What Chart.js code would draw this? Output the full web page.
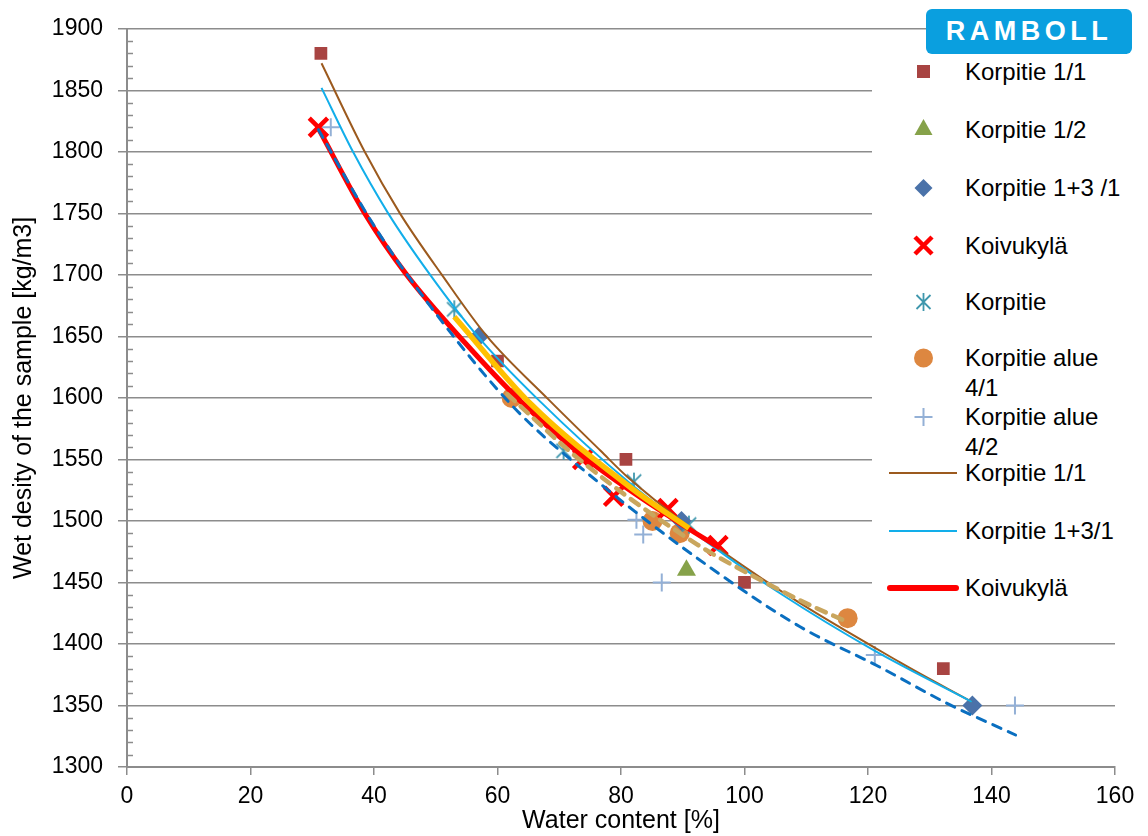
<!DOCTYPE html>
<html>
<head>
<meta charset="utf-8">
<script src="https://cdn.jsdelivr.net/npm/chart.js@4.4.1/dist/chart.umd.min.js"></script>
<style>
  html, body { margin: 0; padding: 0; background: #fff; }
  #wrap { position: relative; width: 1148px; height: 836px; overflow: hidden; font-family: "Liberation Sans", Arial, sans-serif; }
  #c { position: absolute; left: 0; top: 0; }
  #legend { position: absolute; left: 872px; top: 57px; width: 276px; height: 555px; background: #fff; }
  .row { position: absolute; left: 0; width: 276px; height: 30px; }
  .row svg { position: absolute; left: 0; top: 0; }
  .row .t { position: absolute; left: 93px; top: 0; font-size: 24px; line-height: 30px; color: #000; white-space: nowrap; }
  #logo { position: absolute; left: 926px; top: 9px; width: 206px; height: 45px; background: #0a9fdf; border-radius: 6px;
          color: #fff; font-family: "Liberation Sans", Arial, sans-serif; font-weight: bold; font-size: 27px; line-height: 45px;
          letter-spacing: 4.5px; text-align: center; }
</style>
</head>
<body>
<div id="wrap">
  <canvas id="c" width="1148" height="836"></canvas>
  <div id="legend"></div>
  <div id="logo">RAMBOLL</div>
</div>
<script>
// ---------- data ----------
const xTicksMax = 160;
const yMin = 1300, yMax = 1900;

// scatter series
const k11X  = [31.4, 60.0, 80.8, 100.0, 132.2];
const k11Y  = [1880, 1630, 1550, 1450, 1380];
const k12X  = [90.6];
const k12Y  = [1460];
const k131X = [57.0, 89.8, 136.9];
const k131Y = [1650, 1500, 1350];
const koiX  = [31.0, 73.8, 78.8, 87.6, 95.7];
const koiY  = [1820, 1550, 1520, 1510, 1480];
const korX  = [53.0, 70.7, 82.1, 91.0];
const korY  = [1672, 1557, 1532, 1497];
const a41X  = [62.3, 85.1, 89.5, 116.7];
const a41Y  = [1600, 1500, 1490, 1421];
const a42X  = [33.0, 82.5, 83.6, 86.6, 121.1, 143.8];
const a42Y  = [1820, 1501, 1489, 1450, 1391, 1350];

// fitted curves
const brownX = [31.5, 38.5, 44.2, 51.0, 58.3, 68.2, 76.7, 81.0, 100.2, 125.2, 136.8];
const brownY = [1872, 1800, 1750, 1700, 1650, 1599, 1557, 1536, 1462, 1385, 1353];
const lblueX = [31.5, 36.6, 42.3, 49.1, 56.8, 66.3, 81.6, 96.6, 105.8, 120.9, 136.8];
const lblueY = [1852, 1800, 1750, 1700, 1650, 1600, 1530, 1473, 1441, 1395, 1353];
const redX   = [31.0, 38.5, 45.3, 54.7, 63.6, 74.0, 88.0, 96.0];
const redY   = [1819, 1750, 1700, 1645, 1598, 1552, 1503, 1478];
const yellX  = [53.0, 65.4, 81.6, 91.0];
const yellY  = [1666, 1595, 1527, 1494];
const tanX   = [61.6, 73.5, 92.3, 102.6, 110.0, 116.6];
const tanY   = [1603, 1549, 1481, 1452, 1433, 1418];
const bdashX = [31.0, 40.0, 49.2, 62.7, 76.2, 94.5, 109.0, 122.0, 132.7, 143.9];
const bdashY = [1818, 1740, 1674, 1592, 1532, 1462, 1414, 1381, 1352, 1326];

const pts = (xs, ys) => xs.map((x, i) => ({x: x, y: ys[i]}));

// asterisk marker (Excel style: X plus vertical bar)
function asterisk(color, size, lw) {
  const cv = document.createElement('canvas');
  cv.width = size; cv.height = size;
  const g = cv.getContext('2d');
  g.strokeStyle = color; g.lineWidth = lw;
  const h = size / 2, r = size / 2 - 1;
  g.beginPath();
  g.moveTo(h, h - r); g.lineTo(h, h + r);
  g.moveTo(h - r * 0.8, h - r * 0.8); g.lineTo(h + r * 0.8, h + r * 0.8);
  g.moveTo(h + r * 0.8, h - r * 0.8); g.lineTo(h - r * 0.8, h + r * 0.8);
  g.stroke();
  return cv;
}
const astImg = asterisk('#3f97ad', 20, 1.8);

const C = {
  sq: '#a84442', tri: '#86a24a', dia: '#4a72a9', x: '#ff0000', ast: '#3f97ad',
  circ: '#dd8740', plus: '#93b0d6', brown: '#9c5a1e', lblue: '#12aeea', red: '#ff0000',
  yell: '#ffc000', tan: '#c9a65e', bdash: '#0a6fc0'
};

const lineDs = (label, data, color, w, order, dash) => ({
  label, data, showLine: true, borderColor: color, borderWidth: w, pointRadius: 0,
  borderDash: dash || [], borderCapStyle: dash ? 'round' : 'butt', fill: false,
  cubicInterpolationMode: 'monotone', order
});

const datasets = [
  {label: 'Korpitie 1/1', data: pts(k11X, k11Y), pointStyle: 'rect', pointRadius: 9, backgroundColor: C.sq, borderColor: C.sq, borderWidth: 0, order: 20},
  {label: 'Korpitie 1/2', data: pts(k12X, k12Y), pointStyle: 'triangle', pointRadius: 11, backgroundColor: C.tri, borderColor: C.tri, borderWidth: 0, order: 21},
  {label: 'Korpitie 1+3 /1', data: pts(k131X, k131Y), pointStyle: 'rectRot', pointRadius: 10, backgroundColor: C.dia, borderColor: C.dia, borderWidth: 0, order: 22},
  {label: 'Koivukylä', data: pts(koiX, koiY), pointStyle: 'crossRot', pointRadius: 13, backgroundColor: C.x, borderColor: C.x, borderWidth: 4.5, order: 23},
  {label: 'Korpitie', data: pts(korX, korY), pointStyle: astImg, pointRadius: 10, order: 24},
  {label: 'Korpitie alue 4/1', data: pts(a41X, a41Y), pointStyle: 'circle', pointRadius: 10, backgroundColor: C.circ, borderColor: C.circ, borderWidth: 0, order: 25},
  {label: 'Korpitie alue 4/2', data: pts(a42X, a42Y), pointStyle: 'cross', pointRadius: 9, backgroundColor: C.plus, borderColor: C.plus, borderWidth: 2, order: 26},
  lineDs('Korpitie 1/1 fit', pts(brownX, brownY), C.brown, 2, 15),
  lineDs('Korpitie 1+3/1 fit', pts(lblueX, lblueY), C.lblue, 2, 14),
  lineDs('Koivukylä fit', pts(redX, redY), C.red, 5, 13),
  lineDs('yellow fit', pts(yellX, yellY), C.yell, 5.5, 12),
  lineDs('tan fit', pts(tanX, tanY), C.tan, 4.5, 11, [10, 8]),
  lineDs('blue fit', pts(bdashX, bdashY), C.bdash, 3, 10, [9, 8])
];

const minorTicks = {
  id: 'minorTicks',
  afterDraw(chart) {
    const y = chart.scales.y, ctx = chart.ctx, left = chart.chartArea.left;
    ctx.save();
    ctx.strokeStyle = '#8c8c8c'; ctx.lineWidth = 1.5;
    for (let v = yMin; v <= yMax; v += 10) {
      if (v % 50 === 0) continue;
      const py = Math.round(y.getPixelForValue(v)) + 0.5;
      ctx.beginPath(); ctx.moveTo(left, py); ctx.lineTo(left + 6, py); ctx.stroke();
    }
    ctx.restore();
  }
};

const FONT = "'Liberation Sans', Arial, sans-serif";
new Chart(document.getElementById('c'), {
  type: 'scatter',
  data: { datasets },
  plugins: [minorTicks],
  options: {
    responsive: false, animation: false, devicePixelRatio: 1, events: [],
    layout: { padding: { top: 27, right: 33, left: 0, bottom: 0 } },
    plugins: { legend: { display: false }, tooltip: { enabled: false } },
    scales: {
      x: {
        type: 'linear', min: 0, max: xTicksMax,
        ticks: { stepSize: 20, color: '#000', font: { family: FONT, size: 23 }, padding: 8, maxRotation: 0,
                 callback: v => String(v) },
        grid: { drawOnChartArea: false, drawTicks: true, tickLength: 8, color: '#8c8c8c', lineWidth: 1.5 },
        border: { display: true, color: '#8c8c8c', width: 2 },
        title: { display: true, text: 'Water content [%]', color: '#000', font: { family: FONT, size: 25, lineHeight: 1.2 }, padding: { top: 0, bottom: 0 } },
        afterFit(s) { s.height = 69; }
      },
      y: {
        type: 'linear', min: yMin, max: yMax,
        ticks: { stepSize: 50, color: '#000', font: { family: FONT, size: 23 }, padding: 15,
                 callback: v => String(v) },
        grid: { color: '#8c8c8c', lineWidth: 1.5, tickLength: 9 },
        border: { display: true, color: '#8c8c8c', width: 2 },
        title: { display: true, text: 'Wet desity of the sample [kg/m3]', color: '#000', font: { family: FONT, size: 25, lineHeight: 1.2 }, padding: { top: 9, bottom: 0 } },
        afterFit(s) { s.width = 127; }
      }
    }
  }
});

// ---------- legend (HTML overlay) ----------
const legendItems = [
  {top: 0,   text: 'Korpitie 1/1',     mk: `<rect x="45" y="8" width="13" height="13" fill="${C.sq}"/>`},
  {top: 58,  text: 'Korpitie 1/2',     mk: `<polygon points="51.5,4 60.5,20 42.5,20" fill="${C.tri}"/>`},
  {top: 116, text: 'Korpitie 1+3 /1',  mk: `<polygon points="51.5,6 60.5,15 51.5,24 42.5,15" fill="${C.dia}"/>`},
  {top: 174, text: 'Koivukylä',        mk: `<path d="M43 6 L60 23 M60 6 L43 23" stroke="${C.x}" stroke-width="4.5"/>`},
  {top: 230, text: 'Korpitie',         mk: `<path d="M51.5 6 V24 M44.5 8 L58.5 22 M58.5 8 L44.5 22" stroke="${C.ast}" stroke-width="1.8"/>`},
  {top: 286, text: 'Korpitie alue<br>4/1', mk: `<circle cx="51.5" cy="15" r="9.5" fill="${C.circ}"/>`},
  {top: 345, text: 'Korpitie alue<br>4/2', mk: `<path d="M51.5 6 V24 M42.5 15 H60.5" stroke="${C.plus}" stroke-width="2"/>`},
  {top: 401, text: 'Korpitie 1/1',     mk: `<path d="M17 15 H85" stroke="${C.brown}" stroke-width="2"/>`},
  {top: 459, text: 'Korpitie 1+3/1',   mk: `<path d="M17 15 H85" stroke="${C.lblue}" stroke-width="2"/>`},
  {top: 516, text: 'Koivukylä',        mk: `<path d="M18 15 H84" stroke="${C.red}" stroke-width="6" stroke-linecap="round"/>`}
];
const lg = document.getElementById('legend');
legendItems.forEach(it => {
  const d = document.createElement('div');
  d.className = 'row';
  d.style.top = it.top + 'px';
  d.innerHTML = `<svg width="92" height="30" viewBox="0 0 92 30">${it.mk}</svg><div class="t">${it.text}</div>`;
  lg.appendChild(d);
});
</script>
</body>
</html>
